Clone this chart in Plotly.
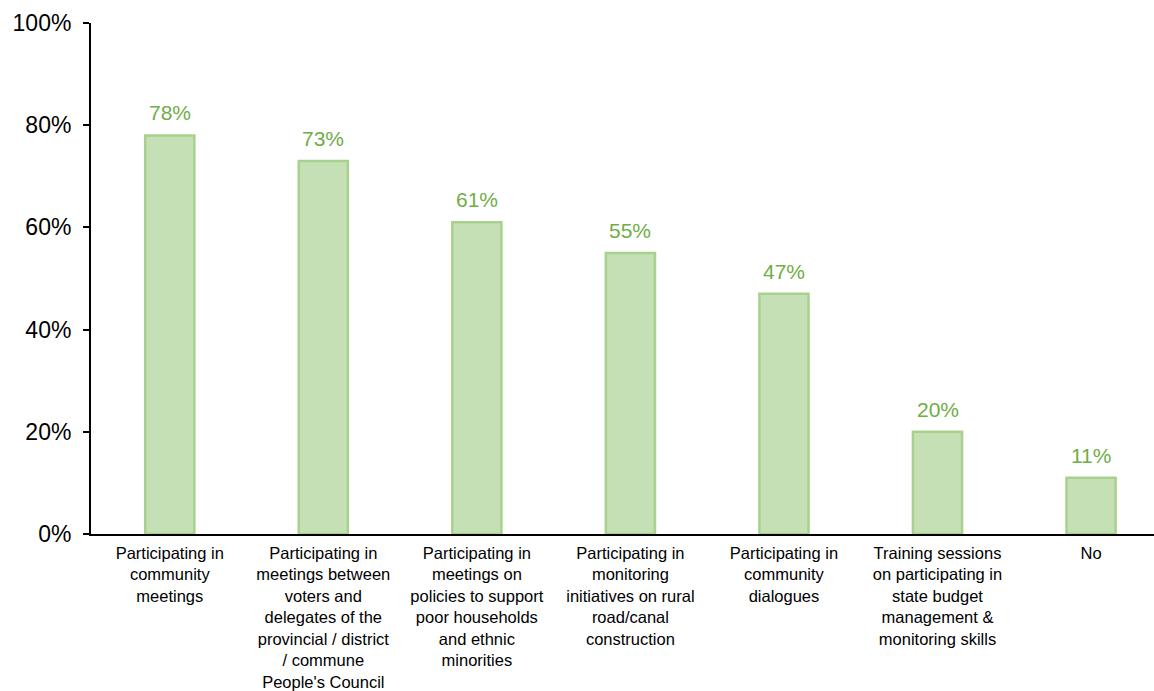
import plotly.graph_objects as go

categories = [
    "Participating in<br>community<br>meetings",
    "Participating in<br>meetings between<br>voters and<br>delegates of the<br>provincial / district<br>/ commune<br>People's Council",
    "Participating in<br>meetings on<br>policies to support<br>poor households<br>and ethnic<br>minorities",
    "Participating in<br>monitoring<br>initiatives on rural<br>road/canal<br>construction",
    "Participating in<br>community<br>dialogues",
    "Training sessions<br>on participating in<br>state budget<br>management &<br>monitoring skills",
    "No",
]
shares = [0.78, 0.73, 0.61, 0.55, 0.47, 0.20, 0.11]
y_ticks = [0, 0.2, 0.4, 0.6, 0.8, 1.0]
y_tick_text = ["0%", "20%", "40%", "60%", "80%", "100%"]

FILL = "#c5e0b4"
EDGE = "#a9d18e"
LABEL = "#70ad47"
FONT = "Liberation Sans, Arial, sans-serif"

fig = go.Figure(
    go.Bar(
        x=list(range(len(categories))),
        y=shares,
        marker=dict(color=FILL, line=dict(color=EDGE, width=2.5)),
        width=0.32,
        hoverinfo="skip",
    )
)

# value labels above each bar
for i, v in enumerate(shares):
    fig.add_annotation(
        x=i, y=v, text=f"{round(v * 100)}%",
        showarrow=False, yanchor="bottom", yshift=9,
        font=dict(family=FONT, size=21, color=LABEL),
    )

fig.update_layout(
    width=1154, height=691,
    margin=dict(l=91, r=0, t=23, b=157),
    paper_bgcolor="white", plot_bgcolor="white",
    showlegend=False,
    font=dict(family=FONT, color="black"),
)
fig.update_xaxes(
    range=[-0.513, 6.41],
    tickvals=list(range(len(categories))), ticktext=categories,
    showline=True, linecolor="black", linewidth=2,
    ticks="", showgrid=False, zeroline=False,
    tickfont=dict(family=FONT, size=16.5, color="black"),
    ticklabelstandoff=3, automargin=False,
)
fig.update_yaxes(
    range=[0, 1.0], tickvals=y_ticks, ticktext=y_tick_text,
    showline=True, linecolor="black", linewidth=2,
    ticks="outside", ticklen=6, tickwidth=2, tickcolor="black",
    showgrid=False, zeroline=False,
    tickfont=dict(family=FONT, size=23, color="black"),
    ticklabelstandoff=7, automargin=False,
)

fig.write_html("out.html")
